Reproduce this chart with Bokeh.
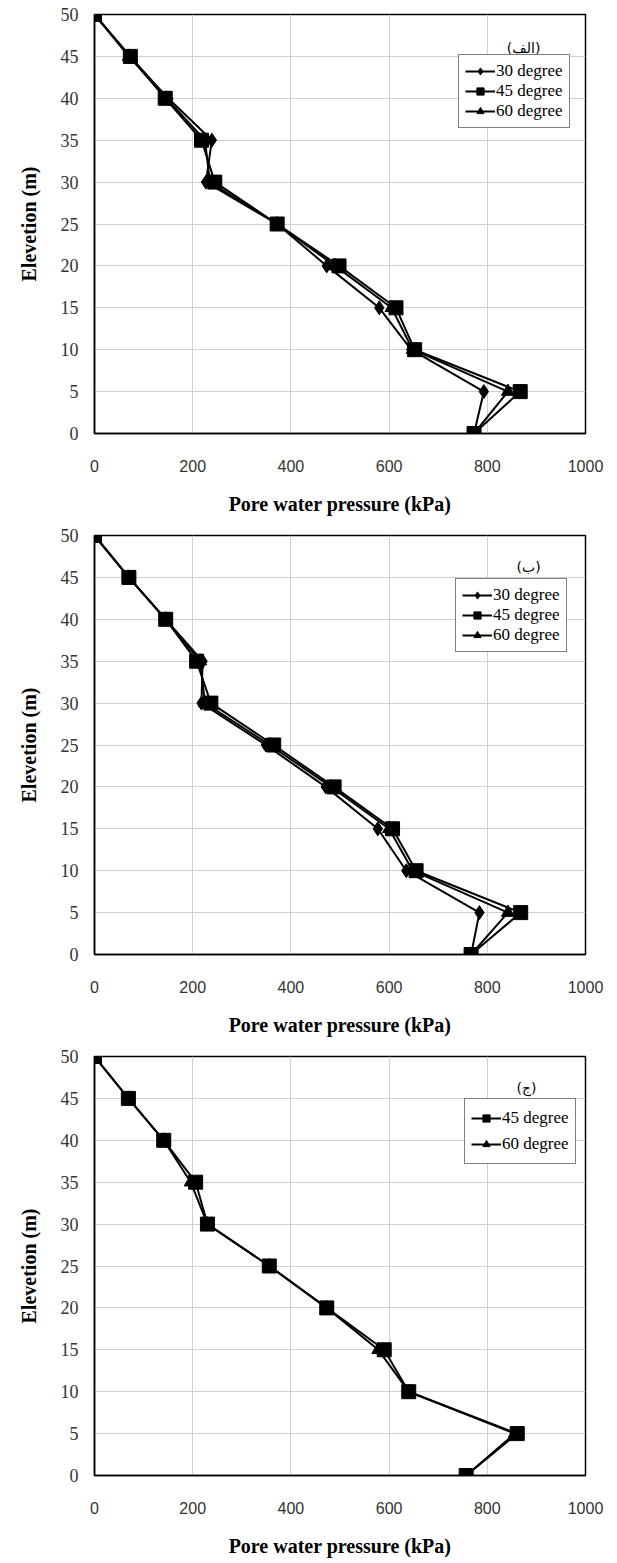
from bokeh.plotting import figure
from bokeh.models import Legend, LegendItem, Label, Range1d
from bokeh.layouts import column
from bokeh.embed import file_html
from bokeh.resources import INLINE

# ---------------- data ----------------
elevation = [50, 45, 40, 35, 30, 25, 20, 15, 10, 5, 0]

# panel (الف)
a_30 = [0, 72, 150, 239, 227, 372, 473, 580, 645, 793, 773]
a_45 = [0, 73, 144, 218, 245, 372, 498, 614, 652, 867, 773]
a_60 = [0, 70, 146, 225, 235, 372, 490, 605, 648, 842, 773]

# panel (ب)
b_30 = [0, 70, 145, 220, 218, 349, 471, 577, 635, 784, 767]
b_45 = [0, 70, 145, 208, 237, 365, 488, 607, 655, 868, 767]
b_60 = [0, 70, 145, 215, 225, 357, 482, 600, 648, 842, 767]

# panel (ج)
c_45 = [0, 69, 141, 206, 230, 356, 473, 590, 640, 861, 757]
c_60 = [0, 69, 141, 196, 230, 356, 473, 578, 640, 856, 757]

x_ticks = [0, 200, 400, 600, 800, 1000]
y_ticks = [0, 5, 10, 15, 20, 25, 30, 35, 40, 45, 50]

panel_titles = ["(الف)", "(ب)", "(ج)"]
series_labels = {"30": "30 degree", "45": "45 degree", "60": "60 degree"}
markers = {"30": "diamond", "45": "square", "60": "triangle"}
marker_sizes = {"30": 14, "45": 14, "60": 13}

SERIF = "Liberation Serif"


def make_panel(series, title, legend_loc, title_xy, label_h):
    p = figure(width=617, height=521, output_backend="svg", toolbar_location=None,
               x_range=Range1d(0, 1000), y_range=Range1d(0, 50),
               min_border_left=94, min_border_right=32,
               min_border_top=14, min_border_bottom=88)
    p.background_fill_color = "white"
    p.border_fill_color = "white"
    p.outline_line_color = "black"
    p.outline_line_width = 1.5

    p.xaxis.ticker = x_ticks
    p.yaxis.ticker = y_ticks
    p.xgrid.grid_line_color = "#cfcfcf"
    p.ygrid.grid_line_color = "#cfcfcf"
    p.xgrid.grid_line_width = 1
    p.ygrid.grid_line_width = 1

    for ax in (p.xaxis[0], p.yaxis[0]):
        ax.axis_line_color = "black"
        ax.axis_line_width = 1.5
        ax.major_tick_line_color = None
        ax.minor_tick_line_color = None
        ax.major_tick_out = 0
        ax.major_tick_in = 0
        ax.axis_label_text_font = SERIF
        ax.axis_label_text_font_style = "bold"
        ax.axis_label_text_font_size = "20px"
        ax.axis_label_text_color = "black"

    p.xaxis.axis_label = "Pore water pressure (kPa)"
    p.xaxis.major_label_text_font = "Liberation Sans"
    p.xaxis.major_label_text_font_size = "16px"
    p.xaxis.major_label_text_color = "#333333"
    p.xaxis.major_label_standoff = 26
    p.xaxis.axis_label_standoff = 18

    p.yaxis.axis_label = "Elevetion (m)"
    p.yaxis.major_label_text_font = SERIF
    p.yaxis.major_label_text_font_size = "18px"
    p.yaxis.major_label_text_color = "#333333"
    p.yaxis.major_label_standoff = 16
    p.yaxis.axis_label_standoff = 18

    items = []
    for key, xs in series:
        lr = p.line(xs, elevation, line_color="black", line_width=2)
        sr = p.scatter(xs, elevation, marker=markers[key], size=marker_sizes[key],
                       fill_color="black", line_color="black")
        items.append(LegendItem(label=series_labels[key], renderers=[lr, sr]))

    legend = Legend(items=items, location=legend_loc)
    legend.label_text_font = SERIF
    legend.label_text_font_size = "17px"
    legend.label_text_color = "black"
    legend.glyph_width = 30
    legend.glyph_height = 18
    legend.label_height = label_h
    legend.label_standoff = 1
    legend.spacing = 0
    legend.padding = 6
    legend.margin = 0
    legend.border_line_color = "black"
    legend.border_line_width = 1.5
    legend.background_fill_color = "white"
    legend.background_fill_alpha = 1
    p.add_layout(legend)

    p.add_layout(Label(x=title_xy[0], y=title_xy[1], text=title,
                       text_font="DejaVu Sans", text_font_size="14px",
                       text_align="center", text_baseline="middle",
                       text_color="black"))
    return p


p1 = make_panel([("30", a_30), ("45", a_45), ("60", a_60)], panel_titles[0],
                (364, 305), (874, 46.0), 20)
p2 = make_panel([("30", b_30), ("45", b_45), ("60", b_60)], panel_titles[1],
                (361, 302), (884, 46.3), 20)
p3 = make_panel([("45", c_45), ("60", c_60)], panel_titles[2],
                (370, 311), (880, 46.2), 26)

layout = column(p1, p2, p3, spacing=0)
open("out.html", "w").write(file_html(layout, INLINE))
